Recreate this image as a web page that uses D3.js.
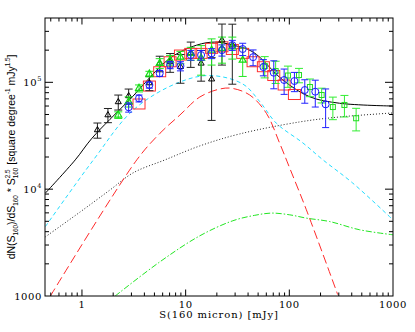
<!DOCTYPE html>
<html>
<head>
<meta charset="utf-8">
<script src="https://cdn.jsdelivr.net/npm/d3@7"></script>
<style>
  body { margin: 0; background: #fff; }
  text { white-space: pre; }
</style>
</head>
<body>
<svg id="chart" width="415" height="332"></svg>
<script>
// model curves
const totalS = [0.444, 0.862, 1.25, 2.91, 7.06, 12.8, 19.1, 28.5, 44.4, 86.8, 157, 305, 1000];
const totalN = [9190, 18800, 30000, 69500, 168000, 223000, 238000, 223000, 193000, 105000, 73300, 63700, 60000];

const cyanS = [0.444, 1.29, 3.13, 8.19, 17.1, 35.6, 51.9, 75, 135, 211, 409, 1000];
const cyanN = [4470, 18800, 55100, 97900, 115800, 96400, 65900, 41400, 27100, 18800, 11400, 5160];

const redS = [0.496, 3.38, 5.66, 8.82, 13.7, 21.4, 27.9, 41.5, 60.1, 80.7, 101, 146, 293];
const redN = [1000, 18800, 33400, 49500, 72900, 86600, 87900, 76100, 51300, 26900, 15700, 6410, 1030];

const dottedS = [0.444, 0.963, 1.87, 3.11, 6.32, 13.7, 33.3, 126, 305, 1000];
const dottedN = [3580, 6130, 9850, 14200, 18800, 25400, 32900, 42600, 47400, 51700];

const greenS = [2.09, 5.66, 13.7, 28.5, 46.4, 67.7, 101, 147, 244, 475, 1000];
const greenN = [1000, 2093, 3660, 5060, 5690, 5970, 5750, 5350, 4980, 4170, 3740];

// measured counts
const blackTriS = [1.41, 1.78, 2.24, 2.82, 4.47, 5.62, 7.08, 8.91, 11.2, 14.1, 17.8, 22.4, 28.2];
const blackTriN = [35800, 49400, 65500, 74500, 98500, 150500, 155000, 140000, 188000, 150500, 107000, 248000, 223000];
const blackTriErr = [5800, 7500, 10500, 12000, 15000, 25000, 31000, 42000, 50000, 48000, 63000, 103000, 127000];

const greenTriS = [2.24, 2.82, 3.55, 4.47, 5.62, 7.08, 8.91, 11.2, 14.1, 17.8, 22.4, 28.2, 35.5];
const greenTriN = [49400, 65900, 87900, 119600, 150500, 161500, 172000, 186600, 168600, 200000, 208000, 215000, 161500];
const greenTriErr = [3500, 7200, 6600, 7200, 16000, 17000, 23000, 26000, 52000, 55000, 57000, 50000, 48000];

const blueS = [2.82, 3.55, 4.47, 5.62, 7.08, 8.91, 11.2, 14.1, 17.8, 22.4, 28.2, 35.5, 44.7, 56.2, 70.8, 89.1, 112, 141, 178, 224];
const blueN = [58400, 70800, 94400, 121400, 145100, 142000, 180000, 180000, 186600, 200000, 223000, 205000, 172000, 139000, 123000, 105100, 102800, 84700, 81700, 62200];
const blueErr = [5800, 5300, 6100, 7800, 11000, 14000, 19000, 19000, 20000, 24000, 24000, 27000, 29000, 24000, 36000, 28000, 21000, 21000, 23000, 24500];

const redSqS = [3.55, 4.47, 5.62, 7.08, 8.91, 11.2, 14.1, 17.8, 22.4, 28.2, 35.5, 44.7, 56.2, 70.8, 89.1, 112];
const redSqN = [62700, 92300, 125600, 155800, 180000, 186600, 186600, 208000, 215000, 203000, 186600, 155800, 140000, 115800, 94400, 76900];

const greenSqS = [57.9, 73.8, 97, 124, 158, 205, 263, 340, 441];
const greenSqN = [142000, 127500, 115800, 117000, 90400, 76100, 58700, 61400, 46100];
const greenSqErr = [32000, 30000, 26000, 18000, 17000, 12000, 14000, 14000, 11000];

// axis ticks
const xMajor = [1, 10, 100, 1000];
const yMajor = [1000, 1e4, 1e5];

const pLeft = 45, pRight = 393, pTop = 18, pBottom = 296;
const svg = d3.select('#chart');

const x = d3.scaleLog().domain([0.44, 1000]).range([pLeft, pRight]);
const y = d3.scaleLog().domain([1000, 4e5]).range([pBottom, pTop]);

svg.append('clipPath').attr('id', 'clip')
  .append('rect').attr('x', pLeft).attr('y', pTop).attr('width', pRight - pLeft).attr('height', pBottom - pTop);

const plot = svg.append('g').attr('clip-path', 'url(#clip)');

// curves
const line = d3.line().x(d => x(d[0])).y(d => y(d[1])).curve(d3.curveCatmullRom.alpha(0.5));
const zip = (a, b) => a.map((v, i) => [v, b[i]]);

const curves = [
  {s: dottedS, n: dottedN, color: '#222', dash: '1,2'},
  {s: greenS, n: greenN, color: '#22e622', dash: '6,2,1.5,2'},
  {s: redS, n: redN, color: '#ff2a2a', dash: '9,4'},
  {s: cyanS, n: cyanN, color: '#22ddff', dash: '4,3'},
  {s: totalS, n: totalN, color: '#000', dash: null}
];
plot.selectAll('path.model').data(curves).join('path')
  .attr('class', 'model')
  .attr('fill', 'none')
  .attr('stroke', d => d.color)
  .attr('stroke-width', 1)
  .attr('stroke-dasharray', d => d.dash)
  .attr('d', d => line(zip(d.s, d.n)));

// error bars
function errorBars(sArr, nArr, eArr, color, cap) {
  const g = plot.append('g').attr('stroke', color).attr('stroke-width', 1).attr('fill', 'none');
  sArr.forEach((s, i) => {
    const cx = x(s);
    const hi = y(nArr[i] + eArr[i]);
    const lo = y(Math.max(nArr[i] - eArr[i], 500));
    g.append('line').attr('x1', cx).attr('x2', cx).attr('y1', hi).attr('y2', lo);
    g.append('line').attr('x1', cx - cap).attr('x2', cx + cap).attr('y1', hi).attr('y2', hi);
    g.append('line').attr('x1', cx - cap).attr('x2', cx + cap).attr('y1', lo).attr('y2', lo);
  });
}

const tri = r => `M0,${-r}L${r * 0.87},${r * 0.5}L${-r * 0.87},${r * 0.5}Z`;

// red squares first (they sit under the others)
plot.append('g').selectAll('rect').data(zip(redSqS, redSqN)).join('rect')
  .attr('x', d => x(d[0]) - 6).attr('y', d => y(d[1]) - 5)
  .attr('width', 12).attr('height', 10)
  .attr('fill', 'none').attr('stroke', '#ff3030').attr('stroke-width', 1);

errorBars(greenSqS, greenSqN, greenSqErr, '#33ee33', 4);
plot.append('g').selectAll('rect').data(zip(greenSqS, greenSqN)).join('rect')
  .attr('x', d => x(d[0]) - 2.5).attr('y', d => y(d[1]) - 2.5)
  .attr('width', 5).attr('height', 5)
  .attr('fill', 'none').attr('stroke', '#22dd22').attr('stroke-width', 1);

errorBars(blackTriS, blackTriN, blackTriErr, '#222', 4);
plot.append('g').selectAll('path').data(zip(blackTriS, blackTriN)).join('path')
  .attr('transform', d => `translate(${x(d[0])},${y(d[1])})`)
  .attr('d', tri(3.5))
  .attr('fill', 'none').attr('stroke', '#000').attr('stroke-width', 1);

errorBars(greenTriS, greenTriN, greenTriErr, '#22e622', 4);
plot.append('g').selectAll('path').data(zip(greenTriS, greenTriN)).join('path')
  .attr('transform', d => `translate(${x(d[0])},${y(d[1])})`)
  .attr('d', tri(4))
  .attr('fill', 'none').attr('stroke', '#11dd11').attr('stroke-width', 1.2);

errorBars(blueS, blueN, blueErr, '#2222ff', 3.5);
plot.append('g').selectAll('circle').data(zip(blueS, blueN)).join('circle')
  .attr('cx', d => x(d[0])).attr('cy', d => y(d[1])).attr('r', 3.5)
  .attr('fill', 'none').attr('stroke', '#1a1aff').attr('stroke-width', 1);

// frame and ticks
const axes = svg.append('g').attr('stroke', '#000').attr('stroke-width', 1);
axes.append('rect').attr('x', pLeft).attr('y', pTop).attr('width', pRight - pLeft).attr('height', pBottom - pTop).attr('fill', 'none');

function logTicks(lo, hi) {
  const out = [];
  for (let e = -1; e <= 6; e++) {
    for (let m = 1; m <= 9; m++) {
      const v = m * Math.pow(10, e);
      if (v > lo * 1.0001 && v < hi * 0.9999) out.push({v: v, major: m === 1});
    }
  }
  return out;
}
logTicks(0.44, 1000).forEach(t => {
  const px = x(t.v), len = t.major ? 6.5 : 3.5;
  axes.append('line').attr('x1', px).attr('x2', px).attr('y1', pBottom).attr('y2', pBottom - len);
  axes.append('line').attr('x1', px).attr('x2', px).attr('y1', pTop).attr('y2', pTop + len);
});
logTicks(1000, 4e5).forEach(t => {
  const py = y(t.v), len = t.major ? 8 : 4;
  axes.append('line').attr('x1', pLeft).attr('x2', pLeft + len).attr('y1', py).attr('y2', py);
  axes.append('line').attr('x1', pRight).attr('x2', pRight - len).attr('y1', py).attr('y2', py);
});

// tick labels
const tickFont = 'DejaVu Serif';
svg.append('g').selectAll('text').data(xMajor).join('text')
  .attr('x', d => x(d)).attr('y', 307.5)
  .attr('text-anchor', 'middle')
  .attr('font-family', tickFont).attr('font-size', 10).attr('letter-spacing', 0.6)
  .text(d => d);

yMajor.forEach(v => {
  const t = svg.append('text')
    .attr('x', 42).attr('y', y(v) + 3.5)
    .attr('text-anchor', 'end')
    .attr('font-family', tickFont).attr('font-size', 10).attr('letter-spacing', 0.6);
  if (v === 1000) {
    t.text('1000');
  } else {
    t.append('tspan').text('10');
    t.append('tspan').attr('dy', -4.5).attr('font-size', 6.5).text(Math.round(Math.log10(v)));
  }
});

// x axis title
svg.append('text')
  .attr('x', (pLeft + pRight) / 2).attr('y', 318)
  .attr('text-anchor', 'middle')
  .attr('font-family', tickFont).attr('font-size', 10).attr('letter-spacing', 0.9)
  .text('S(160 micron) [mJy]');

// y axis title, laid out piece by piece so the stacked index works
const ySegs = [
  {t: 'dN(S'}, {t: '160', k: 'sub'}, {t: ')/dS'}, {t: '160', k: 'sub'}, {t: ' * S'},
  {stack: true, sup: '2.5', sub: '160'},
  {t: ' [square degree'}, {t: '-1', k: 'sup'}, {t: ' mJy'}, {t: '1.5', k: 'sup'}, {t: ']'}
];
const yTitle = svg.append('g')
  .attr('transform', `translate(14.5,${(pTop + pBottom) / 2}) rotate(-90)`)
  .attr('font-family', 'Liberation Sans');
const fs = 10.5;
let cx = 0;
ySegs.forEach(s => {
  if (s.stack) {
    const a = yTitle.append('text').attr('x', cx).attr('y', -fs * 0.42).attr('font-size', fs * 0.6).text(s.sup);
    const b = yTitle.append('text').attr('x', cx).attr('y', fs * 0.3).attr('font-size', fs * 0.6).text(s.sub);
    cx += Math.max(a.node().getComputedTextLength(), b.node().getComputedTextLength());
  } else {
    const dy = s.k === 'sup' ? -fs * 0.42 : s.k === 'sub' ? fs * 0.3 : 0;
    const t = yTitle.append('text').attr('x', cx).attr('y', dy)
      .attr('font-size', s.k ? fs * 0.6 : fs).text(s.t);
    cx += t.node().getComputedTextLength();
  }
});
yTitle.selectAll('text').attr('transform', `translate(${-cx / 2},0)`);
</script>
</body>
</html>
